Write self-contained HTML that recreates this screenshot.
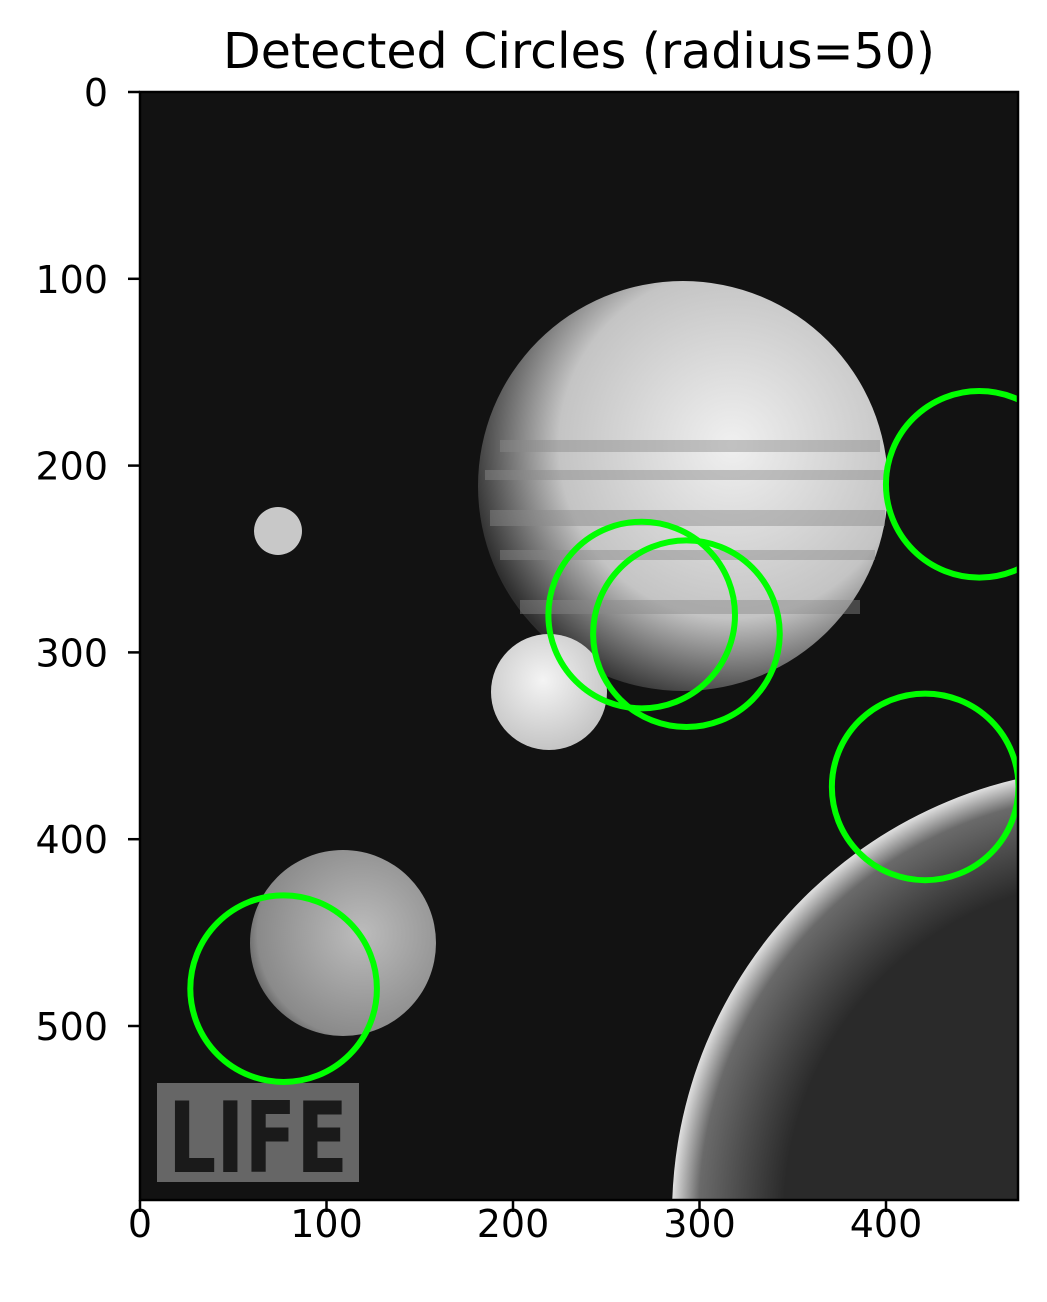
<!DOCTYPE html>
<html><head><meta charset="utf-8"><style>
html,body{margin:0;padding:0;background:#fff;overflow:hidden;width:1047px;height:1302px;}
svg{display:block;}
svg text{font-family:"DejaVu Sans","Liberation Sans",sans-serif;}
</style></head><body>
<svg id="chart" width="1047" height="1302" viewBox="0 0 1047 1302" xmlns="http://www.w3.org/2000/svg">
<defs>
<clipPath id="axclip"><rect x="140" y="92" width="878" height="1108"/></clipPath>
<radialGradient id="jup" cx="0.62" cy="0.4" r="0.65"><stop offset="0" stop-color="#f0f0f0"/><stop offset="0.65" stop-color="#c4c4c4"/><stop offset="1" stop-color="#2e2e2e"/></radialGradient>
<radialGradient id="moon" cx="0.45" cy="0.4" r="0.7"><stop offset="0" stop-color="#f4f4f4"/><stop offset="1" stop-color="#bdbdbd"/></radialGradient>
<radialGradient id="gany" cx="0.6" cy="0.45" r="0.7"><stop offset="0" stop-color="#bcbcbc"/><stop offset="0.8" stop-color="#8a8a8a"/><stop offset="1" stop-color="#3a3a3a"/></radialGradient>
<radialGradient id="cal" cx="0.5" cy="0.5" r="0.5"><stop offset="0.75" stop-color="#2a2a2a"/><stop offset="0.94" stop-color="#6a6a6a"/><stop offset="1" stop-color="#e0e0e0"/></radialGradient>
</defs>
<text x="579" y="68" font-size="49" text-anchor="middle" fill="#000">Detected Circles (radius=50)</text>
<g clip-path="url(#axclip)">
<rect x="140" y="92" width="878" height="1108" fill="#121212"/>
<circle cx="683" cy="486" r="205" fill="url(#jup)"/>
<g fill="#8a8a8a" opacity="0.45">
<rect x="500" y="440" width="380" height="12"/><rect x="485" y="470" width="400" height="10"/><rect x="490" y="510" width="395" height="16"/><rect x="500" y="550" width="375" height="10"/><rect x="520" y="600" width="340" height="14"/>
</g>
<circle cx="278" cy="531" r="24" fill="#c8c8c8"/>
<circle cx="549" cy="692" r="58" fill="url(#moon)"/>
<circle cx="343" cy="943" r="93" fill="url(#gany)"/>
<circle cx="1120" cy="1215" r="448" fill="url(#cal)"/>
<rect x="157" y="1083" width="202" height="99" fill="#666"/>
<text x="258" y="1172" font-size="98" font-weight="bold" text-anchor="middle" fill="#1a1a1a" textLength="180" lengthAdjust="spacingAndGlyphs">LIFE</text>
<g id="circles"></g>
</g>
<rect x="140" y="92" width="878" height="1108" fill="none" stroke="#000" stroke-width="2.5"/>
<g id="xticks"></g><g id="yticks"></g>
</svg>
<script>
const circleX = [450, 269, 293, 421, 77];
const circleY = [210, 280, 290, 372, 480];
const circleR = [50, 50, 50, 50, 50];
const xTicks = [0, 100, 200, 300, 400];
const yTicks = [0, 100, 200, 300, 400, 500];
const NS = 'http://www.w3.org/2000/svg';
const sx = v => 140 + v * 1.865;
const sy = v => 92 + v * 1.868;
const cg = document.getElementById('circles');
circleX.forEach((x, i) => {
  const c = document.createElementNS(NS, 'circle');
  c.setAttribute('cx', sx(x)); c.setAttribute('cy', sy(circleY[i]));
  c.setAttribute('r', circleR[i] * 1.866);
  c.setAttribute('fill', 'none'); c.setAttribute('stroke', '#00ff00'); c.setAttribute('stroke-width', '6');
  
  
  cg.appendChild(c);
});
const xg = document.getElementById('xticks');
xTicks.forEach(t => {
  const l = document.createElementNS(NS, 'line');
  l.setAttribute('x1', sx(t)); l.setAttribute('x2', sx(t)); l.setAttribute('y1', 1200); l.setAttribute('y2', 1212);
  l.setAttribute('stroke', '#000'); l.setAttribute('stroke-width', '2.5');
  
  
  xg.appendChild(l);
  const tx = document.createElementNS(NS, 'text');
  tx.setAttribute('x', sx(t)); tx.setAttribute('y', 1237); tx.setAttribute('font-size', '38'); tx.setAttribute('text-anchor', 'middle');
  tx.textContent = t;
  
  
  xg.appendChild(tx);
});
const yg = document.getElementById('yticks');
yTicks.forEach(t => {
  const l = document.createElementNS(NS, 'line');
  l.setAttribute('x1', 128); l.setAttribute('x2', 140); l.setAttribute('y1', sy(t)); l.setAttribute('y2', sy(t));
  l.setAttribute('stroke', '#000'); l.setAttribute('stroke-width', '2.5');
  
  
  yg.appendChild(l);
  const tx = document.createElementNS(NS, 'text');
  tx.setAttribute('x', 108); tx.setAttribute('y', sy(t) + 14); tx.setAttribute('font-size', '38'); tx.setAttribute('text-anchor', 'end');
  tx.textContent = t;
  
  
  yg.appendChild(tx);
});
</script>
</body></html>
